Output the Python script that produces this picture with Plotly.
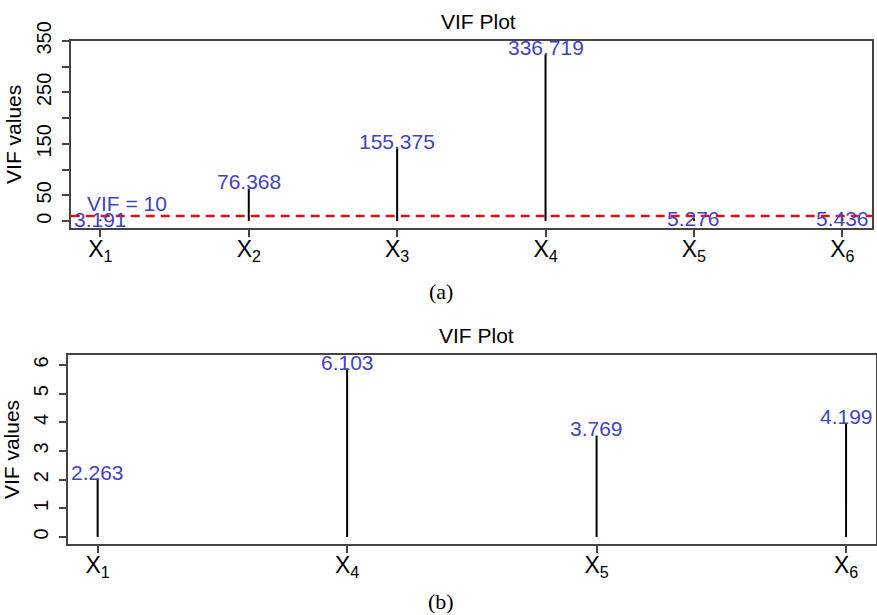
import plotly.graph_objects as go

# ---- data ----
top_ticks = ["X<sub>1</sub>", "X<sub>2</sub>", "X<sub>3</sub>", "X<sub>4</sub>", "X<sub>5</sub>", "X<sub>6</sub>"]
top_vif = [3.191, 76.368, 155.375, 336.719, 5.276, 5.436]
bottom_ticks = ["X<sub>1</sub>", "X<sub>4</sub>", "X<sub>5</sub>", "X<sub>6</sub>"]
bottom_vif = [2.263, 6.103, 3.769, 4.199]
threshold = 10
top_yticks = [0, 50, 100, 150, 200, 250, 300, 350]
top_ytext = ["0", "50", "", "150", "", "250", "", "350"]
bottom_yticks = [0, 1, 2, 3, 4, 5, 6]

W, H = 877, 615
SANS = "Liberation Sans, Arial, sans-serif"
BLUE = "#4343BF"
AX = "#444444"

fig = go.Figure()


def stems(vals, xa, ya):
    xs, ys = [], []
    for i, v in enumerate(vals, start=1):
        xs += [i, i, None]
        ys += [0, v, None]
    fig.add_trace(go.Scatter(x=xs, y=ys, mode="lines", xaxis=xa, yaxis=ya,
                             line=dict(color="black", width=2), hoverinfo="skip",
                             showlegend=False))


stems(top_vif, "x", "y")
stems(bottom_vif, "x2", "y2")

masks, labels = [], []


def value_labels(vals, xr, yr, masked):
    for i, v in enumerate(vals, start=1):
        if masked(v):
            # white patch behind the label (hides the top of the stem, like the original)
            masks.append(dict(x=i, y=v, xref=xr, yref=yr, text=" ", showarrow=False,
                              bgcolor="white", width=20, height=12, borderpad=0))
        labels.append(dict(x=i, y=v, xref=xr, yref=yr, text=f"{v:.3f}", showarrow=False,
                           font=dict(family=SANS, size=21, color=BLUE)))


value_labels(top_vif, "x", "y", lambda v: v > threshold)
value_labels(bottom_vif, "x2", "y2", lambda v: True)

annotations = masks + labels
annotations.append(dict(x=1.18, y=34, xref="x", yref="y", text=f"VIF = {threshold}", showarrow=False,
                        font=dict(family=SANS, size=21, color=BLUE)))

# titles and captions
annotations += [
    dict(x=479 / W, y=1 - 22 / H, xref="paper", yref="paper", text="VIF Plot", showarrow=False,
         font=dict(family=SANS, size=21, color="black"), yanchor="middle"),
    dict(x=476 / W, y=1 - 335 / H, xref="paper", yref="paper", text="VIF Plot", showarrow=False,
         font=dict(family=SANS, size=21, color="black"), yanchor="middle"),
    dict(x=441 / W, y=1 - 291 / H, xref="paper", yref="paper", text="(a)", showarrow=False,
         font=dict(family="Liberation Serif, serif", size=22, color="black"), yanchor="middle"),
    dict(x=441 / W, y=1 - 601 / H, xref="paper", yref="paper", text="(b)", showarrow=False,
         font=dict(family="Liberation Serif, serif", size=22, color="black"), yanchor="middle"),
]


def rng(n):
    return [1 - 0.04 * (n - 1), n + 0.04 * (n - 1)]


def yrng(vals):
    m = max(vals)
    return [-0.04 * m, 1.04 * m]


common_x = dict(showline=True, linecolor=AX, linewidth=1.5, mirror=True, ticks="outside",
                ticklen=7, tickcolor=AX, tickwidth=1.5, showgrid=False, zeroline=False,
                tickfont=dict(family=SANS, size=23, color="black"), automargin=False,
                ticklabelstandoff=-7)
common_y = dict(showline=True, linecolor=AX, linewidth=1.5, mirror=True, ticks="outside",
                ticklen=7, tickcolor=AX, tickwidth=1.5, showgrid=False, zeroline=False,
                tickangle=-90, tickfont=dict(family=SANS, size=20, color="black"),
                automargin=False, ticklabelstandoff=3,
                title=dict(text="VIF values", font=dict(family=SANS, size=21, color="black"),
                           standoff=6))

fig.update_layout(
    width=W, height=H, margin=dict(l=0, r=0, t=0, b=0),
    paper_bgcolor="white", plot_bgcolor="white", showlegend=False,
    xaxis=dict(domain=[70.7 / W, 872 / W], anchor="y", range=rng(len(top_vif)),
               tickvals=list(range(1, len(top_vif) + 1)), ticktext=top_ticks, **common_x),
    yaxis=dict(domain=[1 - 228 / H, 1 - 40.7 / H], anchor="x", range=yrng(top_vif),
               tickvals=top_yticks, ticktext=top_ytext, **common_y),
    xaxis2=dict(domain=[67.7 / W, 876 / W], anchor="y2", range=rng(len(bottom_vif)),
                tickvals=list(range(1, len(bottom_vif) + 1)), ticktext=bottom_ticks, **common_x),
    yaxis2=dict(domain=[1 - 544 / H, 1 - 355 / H], anchor="x2", range=yrng(bottom_vif),
                tickvals=bottom_yticks, **common_y),
    annotations=annotations,
    shapes=[dict(type="line", xref="x domain", yref="y", x0=0, x1=1, y0=threshold, y1=threshold,
                 line=dict(color="#DD1111", width=2.5, dash="9px,6px"))],
)

fig.write_html("out.html", config={"displayModeBar": False},
               post_script="document.body.style.margin='0';document.body.style.overflow='hidden';")
